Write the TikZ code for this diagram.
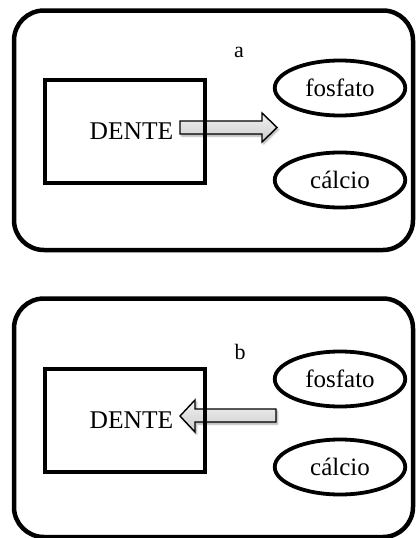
\documentclass[tikz,border=0pt]{standalone}
\usepackage{fontspec}
\setmainfont{Liberation Serif}
\usetikzlibrary{shapes.geometric,shadows.blur}
\begin{document}
\begin{tikzpicture}[x=1pt,y=-1pt,
  frame/.style={draw,line width=4.5pt,rounded corners=30pt,inner sep=0pt,minimum width=399pt},
  dentebox/.style={draw,line width=3.8pt,inner sep=0pt,minimum width=160.5pt,minimum height=103.5pt},
  ion/.style={draw,ellipse,line width=3.8pt,inner sep=0pt,minimum width=130.5pt,minimum height=55pt,font=\fontsize{25}{30}\selectfont},
  bigtext/.style={inner sep=0pt,font=\fontsize{25.5}{30}\selectfont},
  lbl/.style={inner sep=0pt,font=\fontsize{22}{26}\selectfont},
  blockarrow/.style={draw=black,line width=1.4pt,line join=miter,top color=gray!10,bottom color=gray!40,
     blur shadow={shadow xshift=1.5pt,shadow yshift=-2pt,shadow blur steps=6,shadow opacity=35}}
]
\useasboundingbox (0,0) rectangle (415,538);
% ---- panel a ----
\node[frame,minimum height=239.5pt] (panelA) at (213.5,130.25) {};
\node[lbl] (la) at (239,52) {a};
\path[blockarrow] (180,121) -- (262,121) -- (262,113) -- (277,127.5) -- (262,142) -- (262,134) -- (180,134) -- cycle;
\node[dentebox] (denteA) at (125,131.5) {};
\node[bigtext] (denteAtxt) at (131.5,130.7) {DENTE};
\node[ion] (fosfA) at (340,88) {fosfato};
\node[ion] (calcA) at (340,180) {cálcio};
% ---- panel b ----
\node[frame,minimum height=238.5pt] (panelB) at (213.5,417.75) {};
\node[lbl] (lb) at (240,351.5) {b};
\path[blockarrow] (276,409) -- (195,409) -- (195,400) -- (180,416) -- (195,432) -- (195,422) -- (276,422) -- cycle;
\node[dentebox] (denteB) at (125,420.5) {};
\node[bigtext] (denteBtxt) at (131.5,419.7) {DENTE};
\node[ion] (fosfB) at (340,379) {fosfato};
\node[ion] (calcB) at (340,467) {cálcio};
\end{tikzpicture}
\end{document}
